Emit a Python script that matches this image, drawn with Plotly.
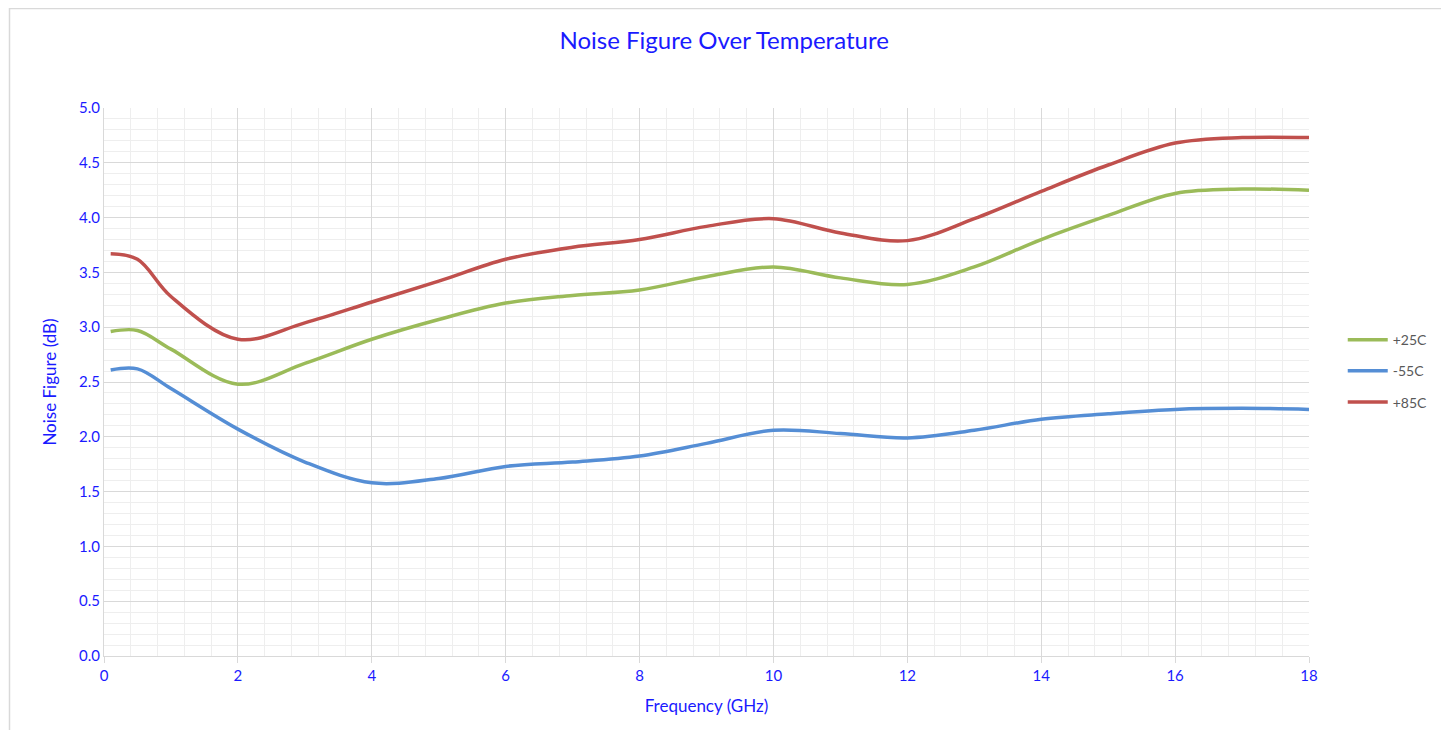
import plotly.graph_objects as go

freq_ghz = [0.1, 0.5, 1, 2, 3, 4, 5, 6, 7, 8, 9, 10, 11, 12, 13, 14, 15, 16, 17, 18]
nf_p25 = [2.96, 2.97, 2.80, 2.48, 2.67, 2.89, 3.07, 3.22, 3.29, 3.34, 3.46, 3.55, 3.45, 3.39, 3.55, 3.80, 4.02, 4.22, 4.26, 4.25]
nf_m55 = [2.61, 2.62, 2.44, 2.07, 1.77, 1.58, 1.62, 1.73, 1.77, 1.825, 1.94, 2.06, 2.03, 1.99, 2.06, 2.16, 2.21, 2.25, 2.26, 2.25]
nf_p85 = [3.67, 3.62, 3.28, 2.89, 3.04, 3.23, 3.42, 3.62, 3.73, 3.80, 3.92, 3.99, 3.86, 3.79, 3.99, 4.24, 4.48, 4.68, 4.73, 4.73]

series = [
    ("+25C", nf_p25, "#9BBB59"),
    ("-55C", nf_m55, "#558ED5"),
    ("+85C", nf_p85, "#C0504D"),
]

BLUE = "#1a1aff"
FONT = "Lato, 'Open Sans', sans-serif"

fig = go.Figure()
for i, (name, vals, col) in enumerate(series):
    fig.add_trace(go.Scatter(
        x=freq_ghz, y=vals, name=name, mode="lines",
        line=dict(color=col, width=3.5, shape="spline", smoothing=1.0),
        legendgroup=f"g{i}",
    ))

fig.update_layout(
    width=1441, height=722,
    paper_bgcolor="white", plot_bgcolor="white",
    margin=dict(l=96, r=140, t=100, b=74),
    font=dict(family=FONT, color=BLUE, size=15),
    title=dict(text="Noise Figure Over Temperature", x=0.497, xanchor="center",
               y=0.955, yanchor="middle", font=dict(size=24, color=BLUE, family=FONT)),
    legend=dict(x=1.028, y=0.52, xanchor="left", yanchor="middle",
                font=dict(size=14, color="#595959", family=FONT),
                traceorder="grouped", tracegroupgap=10, itemwidth=40,
                bgcolor="rgba(0,0,0,0)"),
    showlegend=True,
)

fig.update_xaxes(
    range=[0, 18], dtick=2, tick0=0,
    showgrid=True, gridcolor="#d9d9d9", gridwidth=1,
    minor=dict(dtick=0.4, showgrid=True, gridcolor="#eeeeee", gridwidth=1),
    showline=True, linecolor="#d9d9d9", linewidth=1,
    ticks="outside", ticklen=6, tickcolor="#d9d9d9",
    zeroline=False,
    title=dict(text="Frequency (GHz)", font=dict(size=17, color=BLUE), standoff=17),
    tickfont=dict(size=15, color=BLUE),
)
fig.update_yaxes(
    range=[0, 5], dtick=0.5, tick0=0, tickformat=".1f",
    showgrid=True, gridcolor="#d9d9d9", gridwidth=1,
    minor=dict(dtick=0.1, showgrid=True, gridcolor="#eeeeee", gridwidth=1),
    showline=True, linecolor="#d9d9d9", linewidth=1,
    ticks="", zeroline=False,
    title=dict(text="Noise Figure (dB)", font=dict(size=17, color=BLUE), standoff=18),
    tickfont=dict(size=15, color=BLUE),
)

# outer chart border
fig.add_shape(type="rect", xref="paper", yref="paper",
              x0=(9.5 - 104) / 1205, x1=(1443 - 104) / 1205,
              y0=(656 - 740) / 548, y1=(656 - 8.5) / 548,
              line=dict(color="#d9d9d9", width=1.5), fillcolor="rgba(0,0,0,0)", layer="below")

fig.write_html("out.html")
